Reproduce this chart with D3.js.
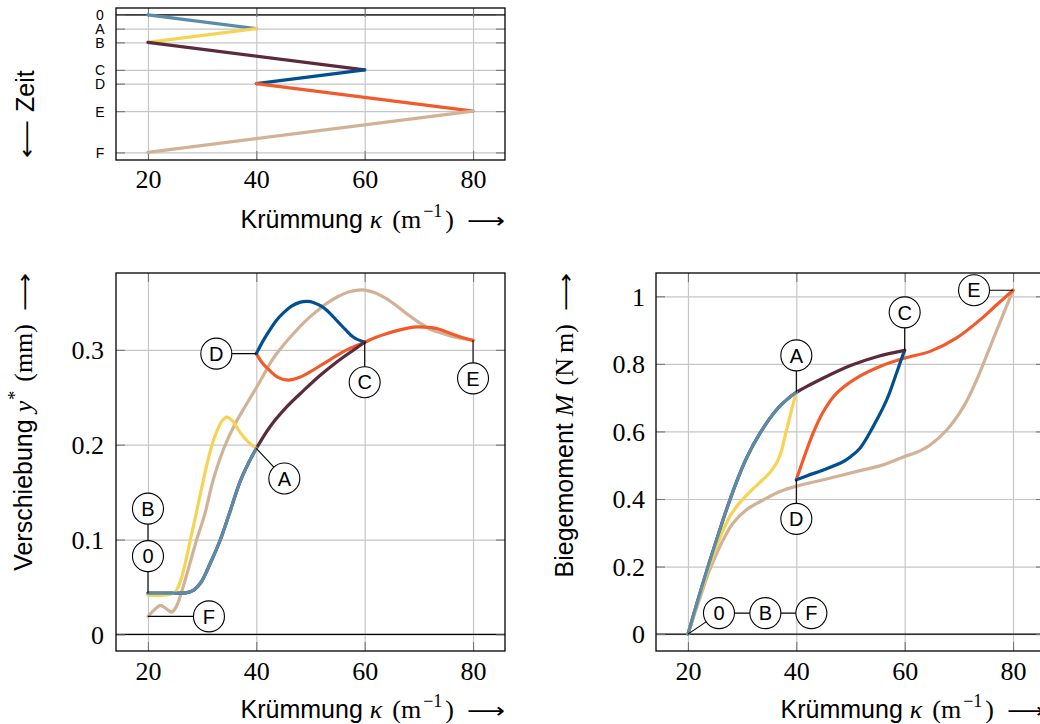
<!DOCTYPE html>
<html>
<head>
<meta charset="utf-8">
<script src="https://cdn.jsdelivr.net/npm/d3@7"></script>
<style>
body { margin: 0; background: #fff; }
</style>
</head>
<body>
<div id="chart"></div>
<script>
// Zustände und Zeitachse
var zustand = ['0', 'A', 'B', 'C', 'D', 'E', 'F'];
var zeit = [0, 1, 2, 4, 5, 7, 10];
var kappaZustand = [20, 40, 20, 60, 40, 80, 20];
var yZustand = [0.0435, 0.196, 0.0435, 0.308, 0.296, 0.310, 0.019];
var mZustand = [0, 0.7155, 0, 0.840, 0.4566, 1.018, 0];

var kappaTicks = [20, 40, 60, 80];
var yTicks = [0, 0.1, 0.2, 0.3];
var mTicks = [0, 0.2, 0.4, 0.6, 0.8, 1];

// Verschiebung y* je Abschnitt, [kappa, y]
var y_0A = [[20,0.0435],[25,0.0435],[27,0.0438],[28.5,0.047],[29.8,0.055],[31.5,0.075],[33.3,0.099],[35,0.127],[37,0.161],[38.5,0.18],[40,0.196]];
var y_AB = [[40,0.196],[38.5,0.203],[37,0.213],[35.6,0.225],[34.6,0.229],[33.8,0.226],[33,0.218],[32,0.203],[31,0.182],[30.2,0.162],[29,0.13],[28,0.104],[27,0.078],[26.2,0.06],[25.5,0.049],[25,0.0445],[24,0.042],[22,0.0412],[20,0.0415]];
var y_BC = [[20,0.0435],[25,0.0435],[27,0.0438],[28.5,0.047],[29.8,0.055],[31.5,0.075],[33.3,0.099],[35,0.127],[37,0.161],[38.5,0.18],[40,0.196],[42.5,0.2187],[45.6,0.2398],[48.7,0.257],[51.75,0.273],[54.8,0.287],[57.9,0.2996],[60,0.308]];
var y_CD = [[60,0.308],[58,0.313],[56.5,0.321],[55,0.330],[53.5,0.339],[52,0.346],[50.5,0.350],[49.5,0.351],[48,0.350],[46.5,0.346],[45,0.339],[43.7,0.331],[42.5,0.321],[41.3,0.310],[40,0.296]];
var y_DE = [[40,0.296],[41,0.287],[42.5,0.278],[44,0.271],[45.9,0.268],[48,0.271],[50,0.277],[52,0.284],[54,0.291],[56.7,0.300],[60,0.308],[62,0.313],[64,0.317],[66.5,0.321],[69,0.324],[71,0.324],[73.3,0.3225],[76,0.317],[78,0.313],[80,0.310]];
var y_EF = [[80,0.310],[77,0.313],[74,0.318],[72,0.322],[70,0.329],[68,0.337],[66,0.346],[64,0.354],[62,0.360],[60,0.363],[58.8,0.363],[57,0.361],[55,0.356],[53,0.349],[51,0.340],[49,0.330],[47,0.318],[45,0.305],[43,0.290],[41,0.270],[40,0.260],[38,0.241],[36,0.221],[34,0.196],[32,0.162],[30.5,0.127],[29,0.1],[28,0.08],[27,0.06],[26,0.041],[25.2,0.029],[24.4,0.0235],[23.4,0.027],[22.3,0.0305],[21.2,0.026],[20,0.019]];

// Biegemoment M je Abschnitt, [kappa, M]
var m_0A = [[20,0],[22,0.11],[24,0.215],[25.5,0.29],[27.1,0.368],[28.95,0.45],[30.8,0.521],[33.3,0.595],[36.35,0.664],[38.3,0.695],[40,0.7155]];
var m_AB = [[40,0.7155],[39.3,0.675],[38.6,0.63],[37.9,0.585],[37.2,0.54],[36.3,0.505],[35.2,0.48],[34,0.46],[32,0.43],[29.6,0.39],[27.7,0.348],[26.5,0.308],[25.4,0.265],[24,0.205],[22,0.105],[20,0]];
var m_BC = [[20,0],[22,0.11],[24,0.215],[25.5,0.29],[27.1,0.368],[28.95,0.45],[30.8,0.521],[33.3,0.595],[36.35,0.664],[38.3,0.695],[40,0.7155],[45,0.758],[50,0.795],[55,0.822],[60,0.840]];
var m_CD = [[60,0.840],[59.3,0.81],[58.5,0.773],[56.7,0.694],[54.2,0.615],[51.75,0.5505],[50,0.525],[48.7,0.511],[45,0.486],[42,0.469],[40,0.4566]];
var m_DE = [[40,0.4566],[41.27,0.516],[43.1,0.595],[45,0.659],[47.45,0.7135],[51.1,0.758],[55.45,0.7925],[60,0.817],[64.7,0.837],[69.6,0.877],[73.95,0.931],[77,0.975],[80,1.018]];
var m_EF = [[80,1.018],[78.3,0.951],[75.8,0.852],[73.3,0.753],[70.9,0.674],[67.8,0.605],[64.7,0.56],[62,0.537],[60,0.526],[56,0.501],[51,0.481],[45,0.457],[40,0.438],[37,0.422],[33.9,0.397],[30.8,0.368],[28.3,0.328],[26.5,0.279],[25.2,0.235],[24,0.19],[22,0.097],[20,0]];

// Farben der Abschnitte 0A, AB, BC, CD, DE, EF
var farben = ['#5a8ca9', '#f7d354', '#5b2a3c', '#004f90', '#f25a2a', '#d1b297'];

var sans = 'Liberation Sans, Arial, sans-serif',
    serif = 'Liberation Serif, Times New Roman, serif',
    pfeil = 'DejaVu Sans, sans-serif';

var svg = d3.select('#chart').append('svg')
    .attr('width', 1040)
    .attr('height', 724);

function achsen(g, x, y, xt, yt, yFormat, xLabelY) {
    var x0 = x.range()[0], x1 = x.range()[1],
        yb = Math.max.apply(null, y.range()), yo = Math.min.apply(null, y.range());

    // Gitter
    g.append('g').attr('transform', 'translate(0,' + yb + ')')
        .call(d3.axisBottom(x).tickValues(xt).tickSize(-(yb - yo)).tickFormat(''))
        .call(s => s.select('.domain').remove())
        .selectAll('line').attr('stroke', '#c6c6c6').attr('stroke-width', 1.2);
    g.append('g').attr('transform', 'translate(' + x0 + ',0)')
        .call(d3.axisLeft(y).tickValues(yt).tickSize(-(x1 - x0)).tickFormat(''))
        .call(s => s.select('.domain').remove())
        .selectAll('line').attr('stroke', '#c6c6c6').attr('stroke-width', 1.2);

    // Nulllinie
    g.append('line')
        .attr('x1', x0).attr('x2', x1)
        .attr('y1', y(0)).attr('y2', y(0))
        .attr('stroke', '#000').attr('stroke-width', 1.2);

    // kleine Striche innen
    var tl = 9;
    [[d3.axisBottom(x), 'translate(0,' + yb + ')', xt],
     [d3.axisTop(x), 'translate(0,' + yo + ')', xt],
     [d3.axisLeft(y), 'translate(' + x0 + ',0)', yt],
     [d3.axisRight(y), 'translate(' + x1 + ',0)', yt]].forEach(function(a) {
        g.append('g').attr('transform', a[1])
            .call(a[0].tickValues(a[2]).tickSize(-tl).tickFormat(''))
            .call(s => s.select('.domain').remove())
            .selectAll('line').attr('stroke', '#777').attr('stroke-width', 1.1);
    });

    // Rahmen
    g.append('rect')
        .attr('x', x0).attr('y', yo)
        .attr('width', x1 - x0).attr('height', yb - yo)
        .attr('fill', 'none').attr('stroke', '#000').attr('stroke-width', 1.3);

    // Beschriftung x
    var ax = g.append('g').attr('transform', 'translate(0,' + yb + ')')
        .call(d3.axisBottom(x).tickValues(xt).tickSize(0).tickFormat(d3.format('d')));
    ax.select('.domain').remove();
    ax.selectAll('text').attr('y', xLabelY).attr('dy', 0)
        .attr('font-family', serif).attr('font-size', 26).attr('fill', '#000');

    // Beschriftung y
    var ay = g.append('g').attr('transform', 'translate(' + x0 + ',0)')
        .call(d3.axisLeft(y).tickValues(yt).tickSize(0).tickFormat(yFormat));
    ay.select('.domain').remove();
    return ay;
}

// langer dünner Pfeil als Textzeichen, in die Länge gezogen
function pfeilSpan(t, zeichen, dx) {
    return t.append('tspan').attr('font-family', pfeil).attr('font-size', 21)
        .attr('dx', dx).attr('textLength', 38).attr('lengthAdjust', 'spacingAndGlyphs')
        .text(zeichen);
}

function xTitel(g, xr, yb) {
    var t = g.append('text').attr('x', xr).attr('y', yb)
        .attr('text-anchor', 'end').attr('fill', '#000');
    t.append('tspan').attr('font-family', sans).attr('font-size', 25).text('Krümmung');
    t.append('tspan').attr('font-family', serif).attr('font-size', 26).attr('font-style', 'italic').attr('dx', 7).text('κ');
    t.append('tspan').attr('font-family', serif).attr('font-size', 26).attr('dx', 10).text('(m');
    t.append('tspan').attr('font-family', serif).attr('font-size', 18).attr('dx', 2).attr('dy', -11).text('−1');
    t.append('tspan').attr('font-family', serif).attr('font-size', 26).attr('dx', 3).attr('dy', 11).text(')');
    pfeilSpan(t, '⟶', 13);
}

function kurven(g, x, y, abschnitte) {
    var line = d3.line()
        .x(d => x(d[0])).y(d => y(d[1]))
        .curve(d3.curveCatmullRom.alpha(0.5));
    // in umgekehrter Reihenfolge, damit 0A oben liegt
    for (var i = abschnitte.length - 1; i >= 0; i--) {
        g.append('path')
            .attr('d', line(abschnitte[i]))
            .attr('fill', 'none')
            .attr('stroke', farben[i])
            .attr('stroke-width', 3.2)
            .attr('stroke-linecap', 'round')
            .attr('stroke-linejoin', 'round');
    }
}

function marken(g, x, y, werte, lage) {
    var pos = {};
    lage.forEach(function(l) {
        var i = zustand.indexOf(l.z);
        var px = x(kappaZustand[i]), py = y(werte[i]);
        pos[l.z] = [px + l.dx, py + l.dy];
        var von = l.von ? pos[l.von] : [px, py];
        g.append('line')
            .attr('x1', von[0]).attr('y1', von[1])
            .attr('x2', pos[l.z][0]).attr('y2', pos[l.z][1])
            .attr('stroke', '#000').attr('stroke-width', 1.1);
    });
    lage.forEach(function(l) {
        var c = pos[l.z];
        g.append('circle').attr('cx', c[0]).attr('cy', c[1]).attr('r', 15.5)
            .attr('fill', '#fff').attr('stroke', '#000').attr('stroke-width', 1.1);
        g.append('text').attr('x', c[0]).attr('y', c[1]).attr('dy', '0.36em')
            .attr('text-anchor', 'middle')
            .attr('font-family', sans).attr('font-size', 20)
            .text(l.z);
    });
}

function yTitel(g, bx, text, einheit, sym, hoch) {
    var t = g.append('text')
        .attr('transform', 'translate(' + bx + ',273) rotate(-90)')
        .attr('text-anchor', 'end').attr('fill', '#000');
    t.append('tspan').attr('font-family', sans).attr('font-size', 25).text(text);
    t.append('tspan').attr('font-family', serif).attr('font-size', 26).attr('font-style', 'italic').attr('dx', 7).text(sym);
    if (hoch) {
        t.append('tspan').attr('font-family', serif).attr('font-size', 18).attr('dx', 1).attr('dy', -11).text(hoch);
        t.append('tspan').attr('font-family', serif).attr('font-size', 26).attr('dx', 9).attr('dy', 11).text(einheit);
    } else {
        t.append('tspan').attr('font-family', serif).attr('font-size', 26).attr('dx', 9).text(einheit);
    }
    pfeilSpan(t, '⟶', 13);
}

// ---------- oben: Zeitverlauf ----------
var gt = svg.append('g');
var xt = d3.scaleLinear().domain([14.1, 85.9]).range([116, 505]);
var yt = d3.scaleLinear().domain([-0.5, 10.55]).range([8, 160]);
var ayt = achsen(gt, xt, yt, kappaTicks, zeit, d => zustand[zeit.indexOf(d)], 28);
ayt.selectAll('text').attr('x', -16).attr('dy', '0.36em').attr('text-anchor', 'middle')
    .attr('font-family', sans).attr('font-size', 14).attr('fill', '#000');

d3.range(zustand.length - 1).forEach(function(i) {
    gt.append('line')
        .attr('x1', xt(kappaZustand[i])).attr('y1', yt(zeit[i]))
        .attr('x2', xt(kappaZustand[i + 1])).attr('y2', yt(zeit[i + 1]))
        .attr('stroke', farben[i]).attr('stroke-width', 3.2)
        .attr('stroke-linecap', 'round');
});
xTitel(gt, 505, 228);
var zt = gt.append('text')
    .attr('transform', 'translate(34,158) rotate(-90)')
    .attr('text-anchor', 'start').attr('fill', '#000');
pfeilSpan(zt, '⟵', 0);
zt.append('tspan').attr('font-family', sans).attr('font-size', 25).attr('dx', 8).text('Zeit');

// ---------- links: Verschiebung ----------
var gl = svg.append('g');
var xl = d3.scaleLinear().domain([14.1, 85.9]).range([116, 505]);
var yl = d3.scaleLinear().domain([-0.0175, 0.381]).range([651, 273]);
var ayl = achsen(gl, xl, yl, kappaTicks, yTicks, d => d === 0 ? '0' : d3.format('.1f')(d), 29);
ayl.selectAll('text').attr('x', -12).attr('dy', '0.34em')
    .attr('font-family', serif).attr('font-size', 26).attr('fill', '#000');
kurven(gl, xl, yl, [y_0A, y_AB, y_BC, y_CD, y_DE, y_EF]);
marken(gl, xl, yl, yZustand, [
    {z: '0', dx: 0, dy: -37},
    {z: 'B', dx: 0, dy: -84.5, von: '0'},
    {z: 'F', dx: 61, dy: 0},
    {z: 'A', dx: 28, dy: 30},
    {z: 'D', dx: -40, dy: 0},
    {z: 'C', dx: 0, dy: 40},
    {z: 'E', dx: 0, dy: 38}
]);
xTitel(gl, 505, 718);
yTitel(gl, 32, 'Verschiebung', '(mm)', 'y', '*');

// ---------- rechts: Biegemoment ----------
var gr = svg.append('g');
var xr = d3.scaleLinear().domain([14.1, 85.9]).range([656, 1045]);
var yr = d3.scaleLinear().domain([-0.05, 1.069]).range([651, 273]);
var ayr = achsen(gr, xr, yr, kappaTicks, mTicks, d => (d === 0 || d === 1) ? String(d) : d3.format('.1f')(d), 29);
ayr.selectAll('text').attr('x', -11).attr('dy', '0.34em')
    .attr('font-family', serif).attr('font-size', 26).attr('fill', '#000');
kurven(gr, xr, yr, [m_0A, m_AB, m_BC, m_CD, m_DE, m_EF]);
marken(gr, xr, yr, mZustand, [
    {z: '0', dx: 31, dy: -21},
    {z: 'B', dx: 77.4, dy: -21, von: '0'},
    {z: 'F', dx: 123.4, dy: -21, von: 'B'},
    {z: 'A', dx: 0, dy: -37},
    {z: 'C', dx: 0, dy: -38},
    {z: 'D', dx: 0, dy: 39},
    {z: 'E', dx: -39, dy: 0}
]);
xTitel(gr, 1045, 718);
yTitel(gr, 573, 'Biegemoment', '(N\u2009m)', 'M', null);
</script>
</body>
</html>
